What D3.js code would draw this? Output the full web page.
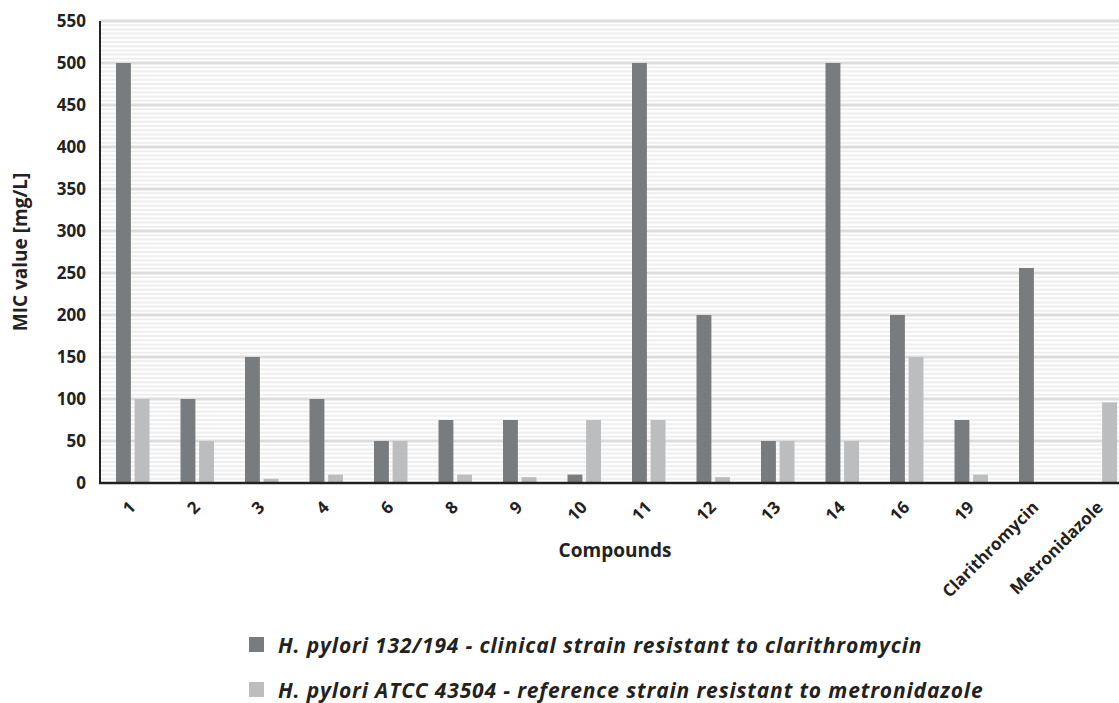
<!DOCTYPE html>
<html>
<head>
<meta charset="utf-8">
<title>MIC values</title>
<script src="https://cdn.jsdelivr.net/npm/d3@7"></script>
<style>
  body { margin: 0; background: #fff; }
  text { font-family: "Open Sans", sans-serif; fill: #222; }
</style>
</head>
<body>
<script>
// compounds on the x axis
var compounds = ["1", "2", "3", "4", "6", "8", "9", "10", "11", "12", "13", "14", "16", "19", "Clarithromycin", "Metronidazole"];
// H. pylori 132/194
var clinical = [500, 100, 150, 100, 50, 75, 75, 10, 500, 200, 50, 500, 200, 75, 256, 0];
// H. pylori ATCC 43504
var reference = [100, 50, 5, 10, 50, 10, 7, 75, 75, 7, 50, 50, 150, 10, 0, 96];
var seriesNames = ["H. pylori 132/194 - clinical strain resistant to clarithromycin",
                   "H. pylori ATCC 43504 - reference strain resistant to metronidazole"];
var colors = ["#797c7f", "#bcbdbf"];
var yTicks = [0, 50, 100, 150, 200, 250, 300, 350, 400, 450, 500, 550];

var width = 1119, height = 703;
var plotLeft = 100, plotRight = 1132, plotTop = 21, plotBottom = 483;

var svg = d3.select("body").append("svg")
  .attr("width", width)
  .attr("height", height);

var x = d3.scaleBand().domain(compounds).range([plotLeft, plotRight]);
var xs = d3.scaleBand().domain([0, 1]).range([16, x.bandwidth() - 15]).paddingInner(0.2);
var y = d3.scaleLinear().domain([0, 550]).range([plotBottom, plotTop]);

// striped background, a thin line every 5 units
svg.append("g").selectAll("line")
  .data(d3.range(5, 550, 5))
  .enter().append("line")
  .attr("x1", plotLeft).attr("x2", width)
  .attr("y1", function(d) { return y(d); })
  .attr("y2", function(d) { return y(d); })
  .attr("stroke", "#eeeeee")
  .attr("stroke-width", 2);

// major grid lines
svg.append("g").selectAll("line")
  .data(yTicks.slice(1))
  .enter().append("line")
  .attr("x1", plotLeft).attr("x2", width)
  .attr("y1", function(d) { return y(d); })
  .attr("y2", function(d) { return y(d); })
  .attr("stroke", "#dcdcdc")
  .attr("stroke-width", 3);

// bars
var data = [clinical, reference];
data.forEach(function(values, s) {
  svg.append("g").selectAll("rect")
    .data(values)
    .enter().append("rect")
    .attr("x", function(d, i) { return x(compounds[i]) + xs(s); })
    .attr("width", xs.bandwidth())
    .attr("y", function(d) { return y(d); })
    .attr("height", function(d) { return plotBottom - y(d); })
    .attr("fill", colors[s]);
});

// axes
svg.append("line")
  .attr("x1", plotLeft).attr("x2", plotLeft)
  .attr("y1", plotTop).attr("y2", plotBottom + 1)
  .attr("stroke", "#222").attr("stroke-width", 2);
svg.append("line")
  .attr("x1", plotLeft - 1).attr("x2", width)
  .attr("y1", plotBottom).attr("y2", plotBottom)
  .attr("stroke", "#222").attr("stroke-width", 2.5);

// y tick labels
svg.append("g").selectAll("text")
  .data(yTicks)
  .enter().append("text")
  .attr("x", 86)
  .attr("y", function(d) { return y(d); })
  .attr("dy", "0.36em")
  .attr("text-anchor", "end")
  .style("font-size", "17px")
  .style("font-weight", "bold")
  .text(function(d) { return d; });

// x tick labels
svg.append("g").selectAll("text")
  .data(compounds)
  .enter().append("text")
  .attr("transform", function(d) {
    return "translate(" + (x(d) + x.bandwidth() / 2 - 4) + ",500) rotate(-45)";
  })
  .attr("text-anchor", "end")
  .attr("dy", "0.7em")
  .style("font-size", "17px")
  .style("font-weight", "bold")
  .text(function(d) { return d; });

// axis titles
svg.append("text")
  .attr("x", 615).attr("y", 557)
  .attr("text-anchor", "middle")
  .style("font-size", "19px")
  .style("font-weight", "bold")
  .text("Compounds");

svg.append("text")
  .attr("transform", "translate(27,252) rotate(-90)")
  .attr("text-anchor", "middle")
  .style("font-size", "19px")
  .style("font-weight", "bold")
  .text("MIC value [mg/L]");

// legend
var legend = svg.append("g").selectAll("g")
  .data(seriesNames)
  .enter().append("g")
  .attr("transform", function(d, i) { return "translate(249," + (645 + i * 45) + ")"; });
legend.append("rect")
  .attr("y", -8).attr("width", 15).attr("height", 15)
  .attr("fill", function(d, i) { return colors[i]; });
legend.append("text")
  .attr("x", 29).attr("dy", "0.36em")
  .style("font-size", "21px")
  .style("font-weight", "bold")
  .style("font-style", "italic")
  .style("letter-spacing", "0.85px")
  .text(function(d) { return d; });
</script>
</body>
</html>
